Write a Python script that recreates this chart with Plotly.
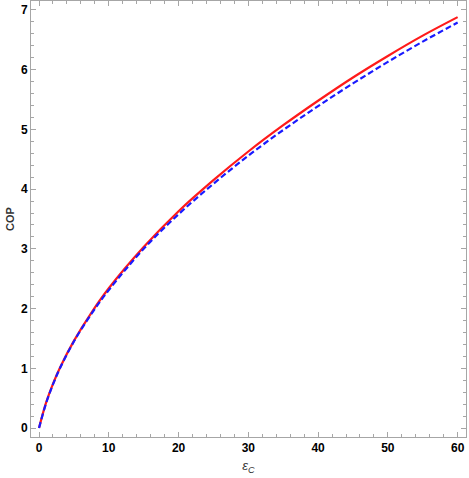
import plotly.graph_objects as go

# Carnot COP values (x) and read-off COP values
eps_c = [0, 1, 2, 3, 5, 7.5, 10, 15, 20, 25, 30, 35, 40, 45, 50, 55, 60]
cop_red = [0.0, 0.42, 0.74, 1.01, 1.46, 1.93, 2.34, 3.03, 3.63, 4.15, 4.63, 5.07, 5.48, 5.87, 6.23, 6.57, 6.88]
cop_blue = [0.0, 0.41, 0.73, 1.0, 1.45, 1.91, 2.31, 3.0, 3.58, 4.09, 4.56, 4.99, 5.39, 5.77, 6.13, 6.47, 6.79]

x_ticks = [0, 10, 20, 30, 40, 50, 60]
y_ticks = [0, 1, 2, 3, 4, 5, 6, 7]

fig = go.Figure()
fig.add_trace(go.Scatter(x=eps_c, y=cop_red, mode="lines",
                         line=dict(color="#ff1a1a", width=2.2, shape="spline", smoothing=1.0),
                         showlegend=False))
fig.add_trace(go.Scatter(x=eps_c, y=cop_blue, mode="lines",
                         line=dict(color="#1a1aff", width=2.2, dash="6px,3px", shape="spline", smoothing=1.0),
                         showlegend=False))

frame = "#a6a6a6"
tickfont = dict(family="Liberation Sans, Arial, sans-serif", size=12, color="black")
fig.update_layout(
    width=469, height=478,
    margin=dict(l=31, r=3, t=1, b=41),
    paper_bgcolor="white", plot_bgcolor="white",
    xaxis=dict(range=[-1.15, 61.2], tickvals=x_ticks, ticktext=["<b>%d</b>" % v for v in x_ticks],
               ticks="inside", ticklen=5, tickcolor=frame, tickwidth=1,
               showline=True, linecolor=frame, linewidth=1, mirror="allticks",
               showgrid=False, zeroline=False, tickfont=tickfont,
               minor=dict(ticks="inside", ticklen=3, dtick=2, tickcolor=frame, showgrid=False),
               title=dict(text="<i>ε<sub>C</sub></i>", font=dict(family="Liberation Sans, Arial, sans-serif", size=13, color="#333333"), standoff=6)),
    yaxis=dict(range=[-0.15, 7.15], tickvals=y_ticks, ticktext=["<b>%d</b>" % v for v in y_ticks],
               ticks="inside", ticklen=5, tickcolor=frame, tickwidth=1,
               showline=True, linecolor=frame, linewidth=1, mirror="allticks",
               showgrid=False, zeroline=False, tickfont=tickfont,
               minor=dict(ticks="inside", ticklen=3, dtick=0.2, tickcolor=frame, showgrid=False),
               title=dict(text="<b>COP</b>", font=dict(family="Liberation Sans, Arial, sans-serif", size=11, color="#333333"), standoff=4)),
)
fig.write_html("out.html", config={"displayModeBar": False},
               post_script="document.body.style.margin='0';document.body.style.overflow='hidden';")
